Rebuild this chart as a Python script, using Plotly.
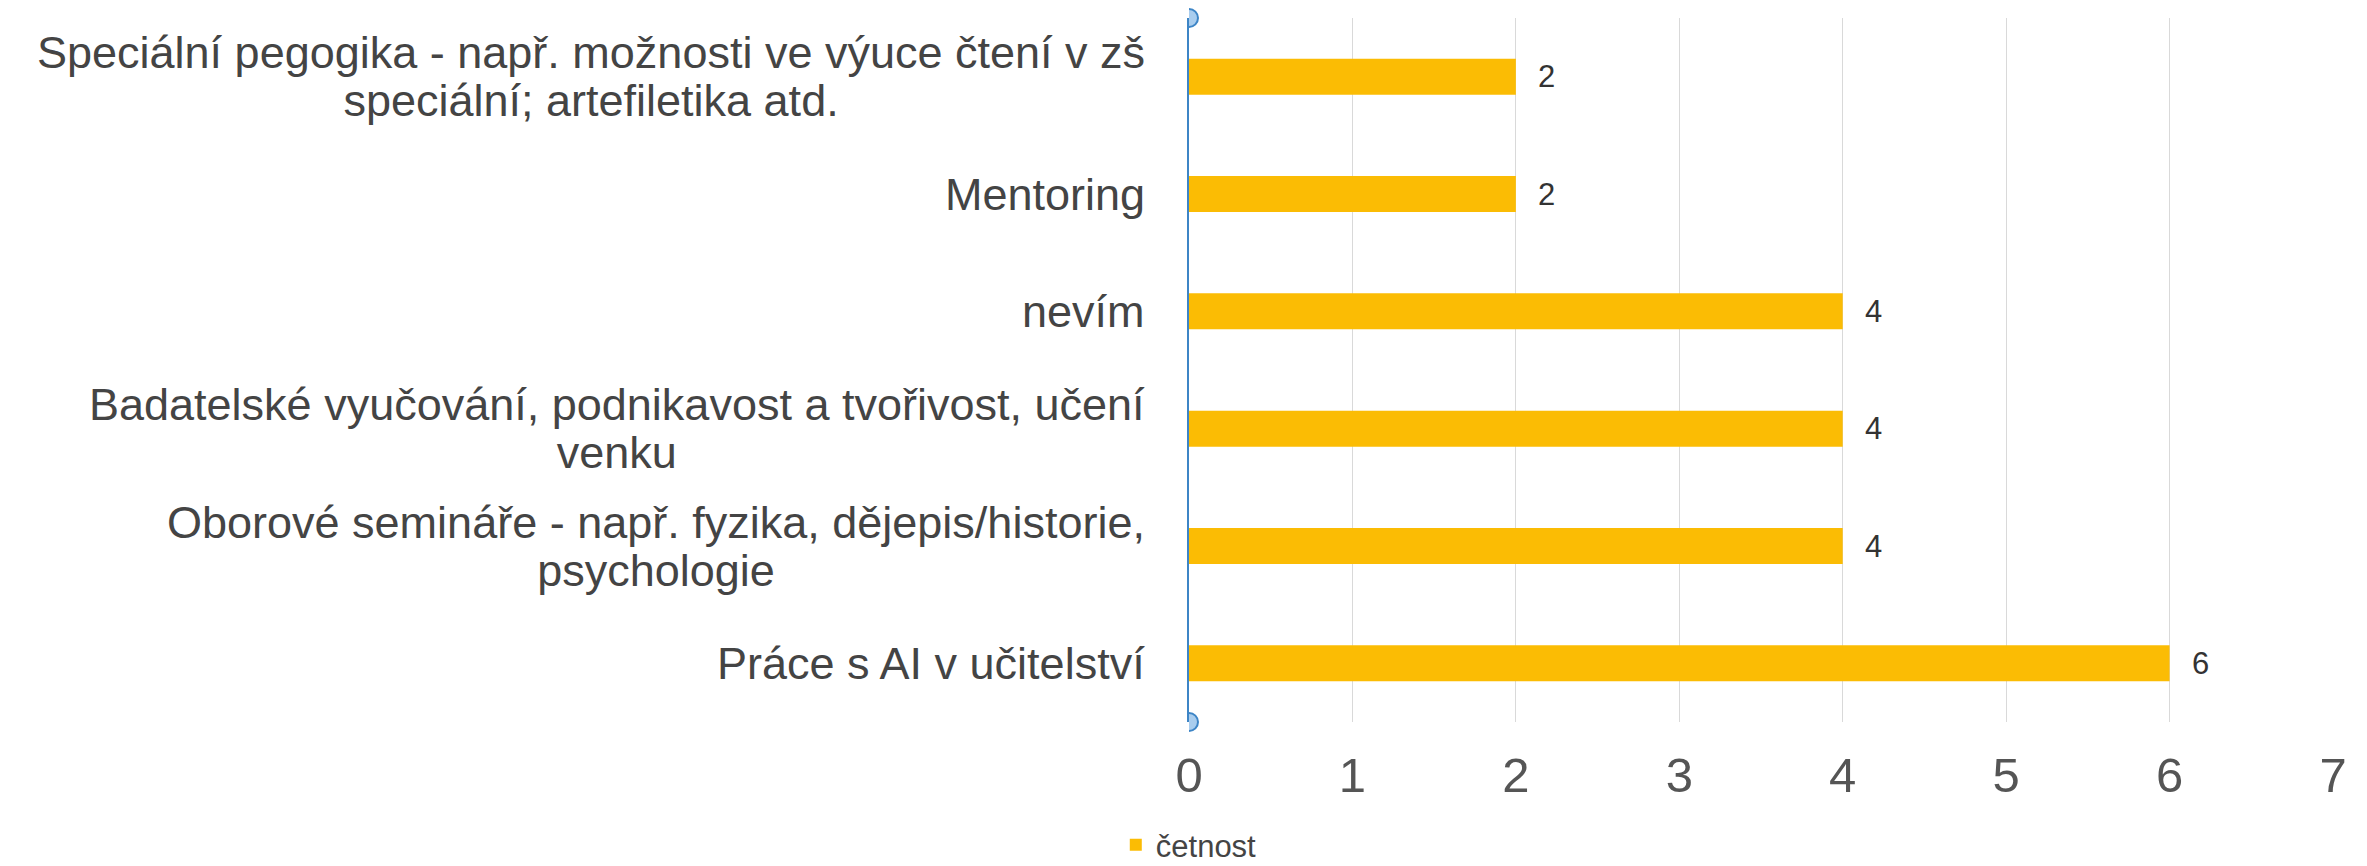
import plotly.graph_objects as go

# categories top to bottom, counts per category
categories = [
    "Speciální pegogika - např. možnosti ve výuce čtení v zš<br>speciální; artefiletika atd.",
    "Mentoring",
    "nevím",
    "Badatelské vyučování, podnikavost a tvořivost, učení<br>venku",
    "Oborové semináře - např. fyzika, dějepis/historie,<br>psychologie",
    "Práce s AI v učitelství",
]
counts = [2, 2, 4, 4, 4, 6]
series_name = "četnost"
x_ticks = [0, 1, 2, 3, 4, 5, 6, 7]

FONT = "Liberation Sans, Arial, Helvetica, sans-serif"
BAR = "#FBBC04"
BLUE = "#3d85c6"

fig = go.Figure()
fig.add_trace(go.Bar(
    x=counts, y=categories, orientation="h",
    name=series_name, marker=dict(color=BAR, line=dict(width=0)),
    showlegend=True,
))

# category labels: centered lines, block right aligned to axis
# small base font keeps the line spacing tight, spans set the real size
annotations = []
for cat in categories:
    lines = cat.split("<br>")
    txt = "<br>".join('<span style="font-size:45px">%s</span>' % ln for ln in lines)
    annotations.append(dict(
        x=0, xref="paper", y=cat, yref="y",
        text=txt, showarrow=False, xanchor="right", yanchor="middle",
        align="center", xshift=-42,
        font=dict(family=FONT, size=37, color="#444444"),
    ))
# value labels beside bars
for cat, v in zip(categories, counts):
    annotations.append(dict(
        x=v, xref="x", y=cat, yref="y",
        text=str(v), showarrow=False, xanchor="left", yanchor="middle",
        xshift=20,
        font=dict(family=FONT, size=31, color="#333333"),
    ))

shapes = []
for yy in (0, 1):
    shapes.append(dict(
        type="circle", xref="x", yref="paper",
        xsizemode="pixel", ysizemode="pixel",
        xanchor=0, yanchor=yy, x0=-9, x1=9, y0=-9, y1=9,
        fillcolor="#a9cdee", line=dict(color=BLUE, width=2),
        layer="above",
    ))

# page body has an 8px margin, so the figure is 8px smaller each way
fig.update_layout(
    width=2359, height=858,
    margin=dict(l=1181, r=34, t=10, b=144, autoexpand=False),
    paper_bgcolor="white", plot_bgcolor="white",
    bargap=0.693,
    font=dict(family=FONT, color="#444444"),
    annotations=annotations,
    shapes=shapes,
    legend=dict(
        orientation="h", x=-0.064, xanchor="left", y=-0.175, yanchor="middle",
        font=dict(family=FONT, size=31, color="#444444"),
        bgcolor="rgba(0,0,0,0)",
    ),
    xaxis=dict(
        range=[0, 7], tickvals=x_ticks, showgrid=True, gridcolor="#d9d9d9",
        gridwidth=1, zeroline=False, showline=False,
        tickfont=dict(family=FONT, size=49, color="#555555"),
        ticklabelstandoff=20,
    ),
    yaxis=dict(
        categoryorder="array", categoryarray=categories,
        autorange="reversed", showticklabels=False, showgrid=False,
        zeroline=False, showline=True, linecolor=BLUE, linewidth=2,
    ),
)

fig.write_html("out.html")
